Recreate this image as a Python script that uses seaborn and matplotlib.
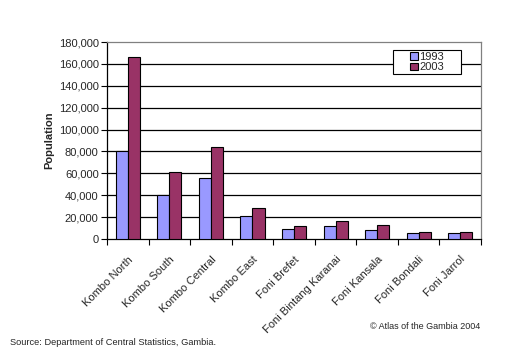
import numpy as np
import pandas as pd
import matplotlib
matplotlib.use("Agg")
import matplotlib.pyplot as plt
from matplotlib.patches import Rectangle
import seaborn as sns

# Population by district
districts = ["Kombo North", "Kombo South", "Kombo Central", "Kombo East",
             "Foni Brefet", "Foni Bintang Karanai", "Foni Kansala",
             "Foni Bondali", "Foni Jarrol"]
pop_1993 = [80000, 40000, 55500, 20700, 8800, 11600, 7900, 5500, 5500]
pop_2003 = [166000, 61500, 84000, 28000, 11600, 16200, 12800, 6100, 6100]
years = ["1993", "2003"]
colors = ["#9999FF", "#993366"]

df = pd.DataFrame({
    "District": districts * 2,
    "Year": [years[0]] * len(districts) + [years[1]] * len(districts),
    "Population": pop_1993 + pop_2003,
})

sns.set_style("white")
plt.rcParams["font.family"] = ["Liberation Sans", "DejaVu Sans"]

fig = plt.figure(figsize=(5.30, 3.64), dpi=100)
ax = fig.add_axes([0.2019, 0.3434, 0.7057, 0.5412])

sns.barplot(data=df, x="District", y="Population", hue="Year",
            palette=colors, width=0.58, edgecolor="black", linewidth=0.8,
            saturation=1, ax=ax, zorder=3)

ax.set_ylim(0, 180000)
ax.set_xlim(-0.5, len(districts) - 0.5)
yt = np.arange(0, 180001, 20000)
ax.set_yticks(yt)
ax.set_yticklabels([f"{v:,}" for v in yt], fontsize=8)
for v in yt[1:-1]:
    ax.axhline(v, color="black", linewidth=0.9, zorder=1)

ax.set_xticks(range(len(districts)))
ax.set_xticklabels(districts, rotation=45, ha="right", va="top",
                   rotation_mode="anchor", fontsize=8)
ax.tick_params(axis="x", which="major", length=0, pad=11)
ax.set_xticks(np.arange(-0.5, len(districts)), minor=True)
ax.tick_params(axis="x", which="minor", length=4, width=0.8, color="black",
               direction="out", bottom=True)
ax.tick_params(axis="y", length=4, width=0.8, color="black",
               direction="out", left=True, pad=2)

ax.set_xlabel("")
ax.set_ylabel("Population", fontsize=8, fontweight="bold", labelpad=3)

for side in ["left", "bottom"]:
    ax.spines[side].set_color("black")
    ax.spines[side].set_linewidth(0.9)
for side in ["top", "right"]:
    ax.spines[side].set_color("#808080")
    ax.spines[side].set_linewidth(0.9)
    ax.spines[side].set_visible(True)

# legend: white box with black border, entries centred inside
ax.add_patch(Rectangle((0.765, 0.838), 0.182, 0.121, transform=ax.transAxes,
                       facecolor="white", edgecolor="black", linewidth=0.8,
                       zorder=4))
leg = ax.legend(loc="center", bbox_to_anchor=(0.856, 0.898),
                fontsize=8, frameon=False, handlelength=0.7,
                handleheight=0.7, handletextpad=0.15, labelspacing=0.05,
                borderpad=0.1, title=None)
leg.set_zorder(5)
for h in leg.legend_handles:
    h.set_edgecolor("black")
    h.set_linewidth(0.8)

fig.text(0.019, 0.060, "Source: Department of Central Statistics, Gambia.",
         fontsize=6.7, ha="left", va="center")
fig.text(0.906, 0.104, "\u00a9 Atlas of the Gambia 2004",
         fontsize=6.5, ha="right", va="center")

fig.savefig("out.png", dpi=100)
